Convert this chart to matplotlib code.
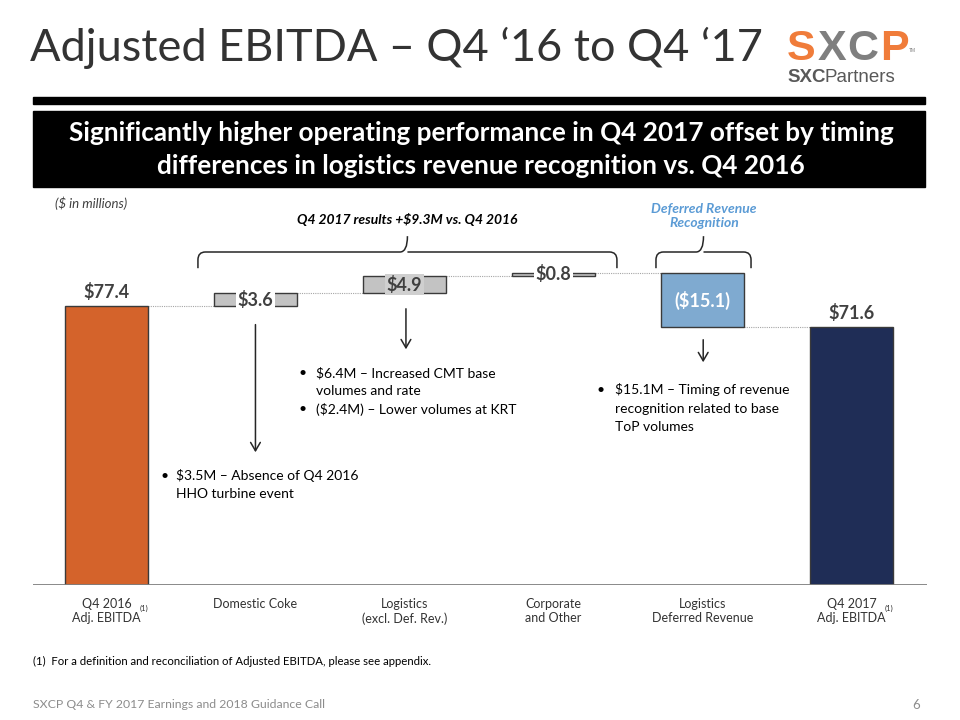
import numpy as np
import matplotlib
matplotlib.use("Agg")
import matplotlib.pyplot as plt
from matplotlib.path import Path
from matplotlib.patches import PathPatch, Rectangle

plt.rcParams["font.family"] = ["Lato", "DejaVu Sans"]

# data ($ in millions)
categories = ["Q4 2016\nAdj. EBITDA", "Domestic Coke", "Logistics\n(excl. Def. Rev.)",
              "Corporate\nand Other", "Logistics\nDeferred Revenue", "Q4 2017\nAdj. EBITDA"]
start_value = 77.4
deltas = [3.6, 4.9, 0.8, -15.1]
end_value = 71.6
value_labels = ["$77.4", "$3.6", "$4.9", "$0.8", "($15.1)", "$71.6"]

ORANGE = "#D4632B"
NAVY = "#1F2D56"
LIGHT_BLUE = "#7FAAD0"
GRAY_BOX = "#C3C3C3"
TEXT = "#404040"

W, H = 960, 720


def fx(px):
    return px / W


def fy(py):
    return 1 - py / H


fig = plt.figure(figsize=(9.6, 7.2), dpi=100)

# header
fig.text(fx(30), fy(48), "Adjusted EBITDA \u2013 Q4 \u201816 to Q4 \u201817", fontsize=32.5,
         color="#333333", va="center", ha="left")
fig.patches.append(Rectangle((fx(33), fy(104)), fx(892), 7 / H, transform=fig.transFigure,
                             color="black"))
fig.patches.append(Rectangle((fx(33), fy(187)), fx(892), 76 / H, transform=fig.transFigure,
                             color="black"))
fig.text(fx(481), fy(133), "Significantly higher operating performance in Q4 2017 offset by timing",
         fontsize=18.8, fontweight="bold", color="white", ha="center", va="center")
fig.text(fx(481), fy(166), "differences in logistics revenue recognition vs. Q4 2016",
         fontsize=18.8, fontweight="bold", color="white", ha="center", va="center")

# logo
logo_font = ["Liberation Sans", "DejaVu Sans"]
for ch, px, col in [("S", 801, "#F07C3A"), ("X", 832, "#7F7F7F"), ("C", 863, "#7F7F7F"), ("P", 894, "#F07C3A")]:
    fig.text(fx(px), fy(60), ch, fontsize=31, fontweight="bold", color=col, ha="center",
             va="baseline", family=logo_font)
fig.text(fx(909), fy(52), "TM", fontsize=3.5, color="#7F7F7F", family=logo_font)
fig.text(fx(787), fy(82), "SXC", fontsize=13.5, fontweight="bold", color="#595959",
         va="baseline", family=logo_font)
fig.text(fx(824), fy(82), "Partners", fontsize=13.5, color="#595959",
         va="baseline", family=logo_font)

# chart axes: baseline at y=585px, 3.6 px per $1M
ax = fig.add_axes([fx(33), fy(585), fx(927 - 33), 395 / H])
ax.set_ylim(0, 395 / 3.6)
ax.set_xlim(-0.493, 5.507)
ax.axis("off")
ax.axhline(0, color="#7F7F7F", lw=2, zorder=3)

x = np.arange(len(categories))
bw = 0.557

levels = np.concatenate([[start_value], start_value + np.cumsum(deltas)])
bottoms = [0] + [min(levels[i], levels[i + 1]) for i in range(len(deltas))] + [0]
heights = [start_value] + [abs(d) for d in deltas] + [end_value]
colors = [ORANGE, GRAY_BOX, GRAY_BOX, GRAY_BOX, LIGHT_BLUE, NAVY]
ax.bar(x, heights, bw, bottom=bottoms, color=colors, edgecolor="#3A3A3A", lw=1, zorder=2)

# connectors
conn = [start_value] + list(levels[1:])
for i in range(len(x) - 1):
    ax.plot([x[i] + bw / 2, x[i + 1] - bw / 2], [conn[i], conn[i]], color="#A6A6A6",
            lw=0.8, ls=(0, (1, 1)), zorder=1)

# value labels
ax.text(x[0], start_value + 1.5, value_labels[0], ha="center", va="bottom", fontsize=13,
        fontweight="bold", color=TEXT)
ax.text(x[5], end_value + 1.5, value_labels[5], ha="center", va="bottom", fontsize=13,
        fontweight="bold", color=TEXT)
for i, bg in [(1, "white"), (2, "#CFCFCF"), (3, "white")]:
    mid = bottoms[i] + heights[i] / 2
    ax.text(x[i], mid, value_labels[i], ha="center", va="center", fontsize=13, fontweight="bold",
            color=TEXT, zorder=4,
            bbox=dict(boxstyle="square,pad=0.1", fc=bg, ec="none"))
ax.text(x[4], bottoms[4] + heights[4] / 2, value_labels[4], ha="center", va="center", fontsize=13,
        fontweight="bold", color="white", zorder=4)

# category labels
for i, lab in enumerate(categories):
    ax.text(x[i], -3.6, lab, ha="center", va="top", fontsize=9, color="#333333", linespacing=1.25)
for i in (0, 5):
    ax.text(x[i] + 0.225, -6.6, "(1)", ha="left", va="center", fontsize=5.5, color="#333333")


def brace(x0, x1, y, drop, tip):
    xm = (x0 + x1) / 2
    rx, ry = 0.05, 2.2
    verts = [(x0, y - drop), (x0, y - ry), (x0, y), (x0 + rx, y),
             (xm - rx, y), (xm, y), (xm, y + tip),
             (xm, y), (xm + rx, y),
             (x1 - rx, y), (x1, y), (x1, y - ry), (x1, y - drop)]
    codes = [Path.MOVETO, Path.LINETO, Path.CURVE3, Path.CURVE3,
             Path.LINETO, Path.CURVE3, Path.CURVE3,
             Path.MOVETO, Path.CURVE3,
             Path.LINETO, Path.CURVE3, Path.CURVE3, Path.LINETO]
    ax.add_patch(PathPatch(Path(verts, codes), fc="none", ec="#262626", lw=1.1))


brace(0.614, 3.426, 92.5, 4.5, 4.4)
brace(3.688, 4.326, 92.5, 4.5, 4.4)

ax.text(2.017, 101.5, "Q4 2017 results +$9.3M vs. Q4 2016", ha="center", va="center",
        fontsize=10, fontweight="bold", style="italic", color="black")
ax.text(4.01, 102.5, "Deferred Revenue\nRecognition", ha="center", va="center",
        fontsize=10, fontweight="bold", style="italic", color="#5B9BD5", linespacing=1.2)
fig.text(fx(55), fy(203), "($ in millions)", fontsize=9.5, style="italic", color="#404040",
         va="center")

# arrows
arrow_kw = dict(arrowstyle="->,head_length=0.6,head_width=0.35", color="#262626", lw=1.1)
ax.annotate("", xy=(x[1], 36.1), xytext=(x[1], 73.1), arrowprops=arrow_kw)
ax.annotate("", xy=(x[2] + 0.01, 64.7), xytext=(x[2] + 0.01, 77.5), arrowprops=arrow_kw)
ax.annotate("", xy=(x[4] + 0.005, 61.1), xytext=(x[4] + 0.005, 68.9), arrowprops=arrow_kw)

note_kw = dict(fontsize=10, color="black", va="center", ha="left")
fig.text(fx(160), fy(476), "\u2022", **note_kw)
fig.text(fx(176), fy(476), "$3.5M \u2013 Absence of Q4 2016", **note_kw)
fig.text(fx(176), fy(494), "HHO turbine event", **note_kw)

fig.text(fx(298), fy(373), "\u2022", **note_kw)
fig.text(fx(316), fy(373), "$6.4M \u2013 Increased CMT base", **note_kw)
fig.text(fx(316), fy(391), "volumes and rate", **note_kw)
fig.text(fx(298), fy(409), "\u2022", **note_kw)
fig.text(fx(316), fy(409), "($2.4M) \u2013 Lower volumes at KRT", **note_kw)

fig.text(fx(597), fy(390), "\u2022", **note_kw)
fig.text(fx(615), fy(390), "$15.1M \u2013 Timing of revenue", **note_kw)
fig.text(fx(615), fy(409), "recognition related to base", **note_kw)
fig.text(fx(615), fy(427), "ToP volumes", **note_kw)

# footnote and footer
fig.text(fx(33), fy(661), "(1)  For a definition and reconciliation of Adjusted EBITDA, please see appendix.",
         fontsize=8.2, color="black", va="center")
fig.text(fx(33), fy(705), "SXCP Q4 & FY 2017 Earnings and 2018 Guidance Call", fontsize=8.8,
         color="#8C8C8C", va="center")
fig.text(fx(920), fy(705), "6", fontsize=9.5, color="#8C8C8C", va="center", ha="right")

fig.savefig("out.png", dpi=100)
